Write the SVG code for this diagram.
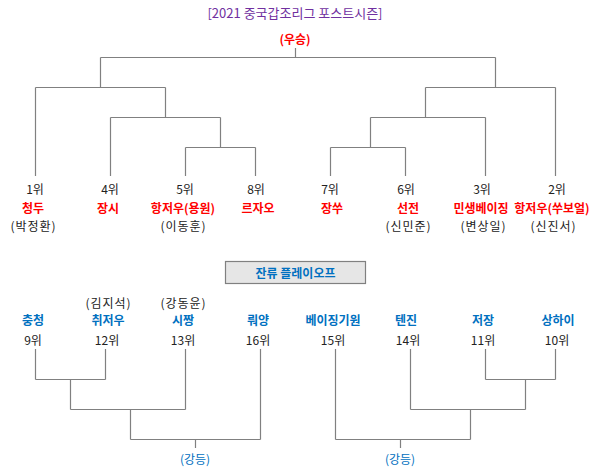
<svg xmlns="http://www.w3.org/2000/svg" width="591" height="469" viewBox="0 0 591 469">
<style>
text{font-family:"Noto Sans CJK KR","Liberation Sans",sans-serif;font-size:12px;text-anchor:middle;dominant-baseline:central}
.t{fill:#7030a0;font-size:13px}
.r{fill:#ff0000;font-weight:bold}
.b{fill:#0070c0;font-weight:bold}
.bl{fill:#0070c0}
.k{fill:#222}
.p{fill:#222;letter-spacing:1px}
.ln path{fill:none;stroke:#808080;stroke-width:1.2}
</style>
<rect width="591" height="469" fill="#fff"/>
<g id="title"><text class="t" x="295" y="12">[2021 중국갑조리그 포스트시즌]</text></g>
<g id="champ"><text class="r" x="295" y="38">(우승)</text></g>
<g class="ln" id="connectors">
<path d="M295.5 48V57.5M100.5 57.5H495.5M100.5 57.5V87.5M35.5 87.5H165.5M35.5 87.5V176M165.5 87.5V117.5M110.5 117.5H220.5M110.5 117.5V176M220.5 117.5V147.5M185.5 147.5H255.5M185.5 147.5V176M255.5 147.5V176"/>
<path d="M495.5 57.5V87.5M425.5 87.5H555.5M555.5 87.5V176M425.5 87.5V117.5M370.5 117.5H485.5M485.5 117.5V176M370.5 117.5V147.5M330.5 147.5H405.5M330.5 147.5V176M405.5 147.5V176"/>
<path d="M35.5 349V379.5M105.5 349V379.5M35.5 379.5H105.5M70.5 379.5V409.5M70.5 409.5H185.5M185.5 349V409.5M130.5 409.5V439.5M130.5 439.5H260.5M260.5 349V439.5M195.5 439.5V448"/>
<path d="M485.5 349V379.5M555.5 349V379.5M485.5 379.5H555.5M525.5 379.5V409.5M410.5 409.5H525.5M410.5 349V409.5M470.5 409.5V439.5M335.5 439.5H470.5M335.5 349V439.5M400.5 439.5V448"/>
</g>
<g id="t1"><text class="k" x="35" y="188">1위</text><text class="r" x="33" y="207">청두</text><text class="p" x="33.5" y="225">(박정환)</text></g>
<g id="t4"><text class="k" x="110" y="188">4위</text><text class="r" x="108" y="207">장시</text></g>
<g id="t5"><text class="k" x="185" y="188">5위</text><text class="r" x="183" y="207">항저우(용원)</text><text class="p" x="183.5" y="225">(이동훈)</text></g>
<g id="t8"><text class="k" x="256" y="188">8위</text><text class="r" x="258" y="207">르자오</text></g>
<g id="t7"><text class="k" x="330" y="188">7위</text><text class="r" x="332" y="207">장쑤</text></g>
<g id="t6"><text class="k" x="406" y="188">6위</text><text class="r" x="408" y="207">선전</text><text class="p" x="408.5" y="225">(신민준)</text></g>
<g id="t3"><text class="k" x="482" y="188">3위</text><text class="r" x="481" y="207">민생베이징</text><text class="p" x="483.5" y="225">(변상일)</text></g>
<g id="t2"><text class="k" x="557" y="188">2위</text><text class="r" x="552" y="207">항저우(쑤보얼)</text><text class="p" x="553.5" y="225">(신진서)</text></g>
<g id="relegation"><rect x="225.5" y="261.5" width="140" height="22" fill="#e6e6e6" stroke="#808080" stroke-width="1.2"/><text class="b" x="295.5" y="272.5">잔류 플레이오프</text></g>
<g id="b9"><text class="b" x="33" y="319">충청</text><text class="k" x="33" y="339">9위</text></g>
<g id="b12"><text class="p" x="108.5" y="302">(김지석)</text><text class="b" x="108" y="319">취저우</text><text class="k" x="107" y="339">12위</text></g>
<g id="b13"><text class="p" x="183.5" y="302">(강동윤)</text><text class="b" x="183" y="319">시짱</text><text class="k" x="183" y="339">13위</text></g>
<g id="b16"><text class="b" x="258" y="319">뤄양</text><text class="k" x="258" y="339">16위</text></g>
<g id="b15"><text class="b" x="333" y="319">베이징기원</text><text class="k" x="333" y="339">15위</text></g>
<g id="b14"><text class="b" x="406" y="319">텐진</text><text class="k" x="408" y="339">14위</text></g>
<g id="b11"><text class="b" x="483" y="319">저장</text><text class="k" x="483" y="339">11위</text></g>
<g id="b10"><text class="b" x="558" y="319">상하이</text><text class="k" x="557" y="339">10위</text></g>
<g id="rel1"><text class="bl" x="195" y="458">(강등)</text></g>
<g id="rel2"><text class="bl" x="400" y="458">(강등)</text></g>
</svg>
